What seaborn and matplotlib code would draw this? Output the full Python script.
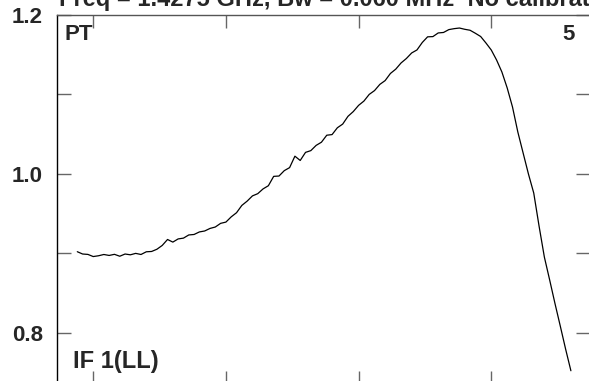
import numpy as np
import pandas as pd
import matplotlib
matplotlib.use("Agg")
import matplotlib.pyplot as plt
import seaborn as sns

# 数据：通道号与幅度
channels = list(range(88, 461, 4))
amplitude = [
    0.9019, 0.8990, 0.8985, 0.8958, 0.8968, 0.8984, 0.8972, 0.8986, 0.8962, 0.8990,
    0.8980, 0.8998, 0.8984, 0.9018, 0.9022, 0.9050, 0.9098, 0.9173, 0.9140, 0.9180,
    0.9190, 0.9230, 0.9236, 0.9268, 0.9280, 0.9312, 0.9330, 0.9376, 0.9392, 0.9458,
    0.9510, 0.9602, 0.9656, 0.9722, 0.9750, 0.9810, 0.9850, 0.9968, 0.9972, 1.0040,
    1.0078, 1.0222, 1.0168, 1.0270, 1.0292, 1.0358, 1.0398, 1.0486, 1.0494, 1.0580,
    1.0626, 1.0724, 1.0784, 1.0862, 1.0916, 1.1000, 1.1048, 1.1126, 1.1174, 1.1264,
    1.1318, 1.1396, 1.1452, 1.1522, 1.1560, 1.1654, 1.1725, 1.1728, 1.1774, 1.1780,
    1.1816, 1.1828, 1.1836, 1.1820, 1.1808, 1.1770, 1.1729, 1.1647, 1.1559, 1.1433,
    1.1282, 1.1081, 1.0841, 1.0527, 1.0262, 0.9998, 0.9758, 0.9343, 0.8952, 0.8663,
    0.8367, 0.8083, 0.7794, 0.7520,
]
y_ticks = [0.8, 0.9, 1.0, 1.1, 1.2]
y_labels = ["0.8", "", "1.0", "", "1.2"]
x_ticks = [100, 200, 300, 400]

title = "Freq = 1.4275 GHz, Bw = 0.060 MHz  No calibration"

sns.set_style("ticks")
plt.rcParams['font.family'] = ['Liberation Sans', 'DejaVu Sans']
plt.rcParams['font.weight'] = 'bold'

df = pd.DataFrame({'channel': channels, 'amp': amplitude})

fig = plt.figure(figsize=(5.89, 3.81), dpi=100)
ax = fig.add_axes([57 / 589, -3 / 381, 533 / 589, 369 / 381])

sns.lineplot(data=df, x='channel', y='amp', ax=ax, color='black', linewidth=0.9)

ax.set_xlim(72.7, 474.4)
ax.set_ylim(0.7353, 1.2)
ax.set_xticks(x_ticks)
ax.set_xticklabels([])
ax.set_yticks(y_ticks)
ax.set_yticklabels(y_labels)
ax.set_xlabel('')
ax.set_ylabel('')

ax.tick_params(axis='x', direction='in', length=9.4, width=1, color='#666666',
               top=True, bottom=True)
ax.tick_params(axis='y', direction='in', length=10, width=1, color='#666666',
               left=True, right=True, labelsize=16, pad=10)
for lab in ax.get_yticklabels():
    lab.set_fontweight('bold')

for side in ['top', 'right', 'bottom']:
    ax.spines[side].set_color('#555555')
ax.spines['left'].set_color('black')
for s in ax.spines.values():
    s.set_linewidth(1)

# 标注文字（标题在原图中被上边缘裁掉一半）
fig.text(59 / 589, 1 - 6 / 381, title, fontsize=17, fontweight='bold',
         va='baseline', ha='left')
fig.text(64 / 589, 1 - 40 / 381, "PT", fontsize=16, fontweight='bold',
         va='baseline', ha='left')
fig.text(575 / 589, 1 - 40 / 381, "5", fontsize=16, fontweight='bold',
         va='baseline', ha='right')
fig.text(73 / 589, 1 - 368 / 381, "IF 1(LL)", fontsize=17, fontweight='bold',
         va='baseline', ha='left')

fig.savefig('out.png', dpi=100)
